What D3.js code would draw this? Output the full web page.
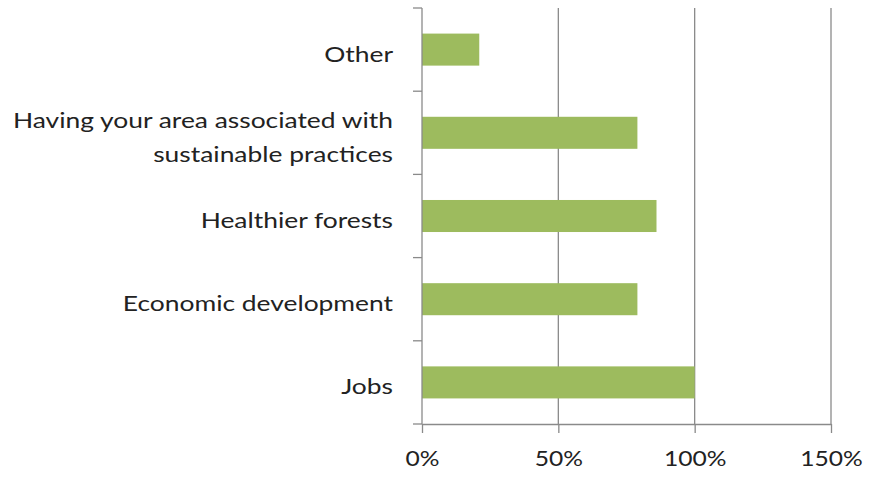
<!DOCTYPE html>
<html>
<head>
<meta charset="utf-8">
<script src="https://cdn.jsdelivr.net/npm/d3@7"></script>
<style>
  html, body { margin: 0; padding: 0; background: #fff; }
  svg text { font-family: Lato, "Open Sans", sans-serif; fill: #222; }
</style>
</head>
<body>
<svg id="chart" width="873" height="479"></svg>
<script>
// Categories, top to bottom
const categories = [
  "Other",
  "Having your area associated with|sustainable practices",
  "Healthier forests",
  "Economic development",
  "Jobs"
];
// Share of respondents (%)
const values = [21, 79, 86, 79, 100];
// X-axis ticks (%)
const xTicks = [0, 50, 100, 150];

const margin = { top: 8, right: 42, bottom: 55, left: 422 };
const width = 873, height = 479;
const svg = d3.select("#chart");

const x = d3.scaleLinear().domain([0, 150]).range([margin.left, width - margin.right]);
const y = d3.scaleBand().domain(categories).range([margin.top, height - margin.bottom])
  .paddingInner(0.615).paddingOuter(0.3075);

const axisColor = "#8a8a8a";
const fontSize = 22;
const labelStretch = 1.2;   // wide-set lettering
const tickStretch = 1.12;

// vertical gridlines
svg.append("g").selectAll("line")
  .data(xTicks.filter(d => d > 0))
  .join("line")
  .attr("x1", d => x(d)).attr("x2", d => x(d))
  .attr("y1", margin.top).attr("y2", height - margin.bottom)
  .attr("stroke", axisColor).attr("stroke-width", 1.3);

// bars
svg.append("g").selectAll("rect")
  .data(categories.map((c, i) => ({ c, v: values[i] })))
  .join("rect")
  .attr("x", x(0))
  .attr("y", d => y(d.c))
  .attr("width", d => x(d.v) - x(0))
  .attr("height", y.bandwidth())
  .attr("fill", "#9dbb5e");

// bottom axis
const xAxis = svg.append("g")
  .attr("transform", `translate(0,${height - margin.bottom})`)
  .call(d3.axisBottom(x).tickValues(xTicks).tickFormat(d => d + "%").tickSizeInner(9).tickSizeOuter(0).tickPadding(17));
xAxis.select(".domain").attr("stroke", axisColor).attr("stroke-width", 1.3);
xAxis.selectAll(".tick line").attr("stroke", axisColor).attr("stroke-width", 1.3);
xAxis.selectAll(".tick text").attr("font-size", fontSize).attr("fill", "#222")
  .attr("font-family", "Lato, 'Open Sans', sans-serif")
  .attr("transform", `scale(${tickStretch},1)`);

// left axis: category boundary ticks
const step = y.step();
const boundaries = d3.range(categories.length + 1).map(i => margin.top + i * step);
svg.append("line")
  .attr("x1", x(0)).attr("x2", x(0))
  .attr("y1", margin.top).attr("y2", height - margin.bottom)
  .attr("stroke", axisColor).attr("stroke-width", 1.3);
svg.append("g").selectAll("line")
  .data(boundaries)
  .join("line")
  .attr("x1", x(0) - 9).attr("x2", x(0))
  .attr("y1", d => d).attr("y2", d => d)
  .attr("stroke", axisColor).attr("stroke-width", 1.3);

// category labels (multi-line labels split on "|"), right-aligned left of the axis
const labelX = x(0) - 29;
const labels = svg.append("g")
  .attr("transform", `translate(${labelX},0) scale(${labelStretch},1)`)
  .selectAll("text")
  .data(categories)
  .join("text")
  .attr("text-anchor", "end")
  .attr("font-size", fontSize)
  .attr("x", 0);
labels.each(function(d) {
  const lines = d.split("|");
  const t = d3.select(this);
  const lh = 34;
  const mid = y(d) + y.bandwidth() / 2;
  lines.forEach((ln, i) => {
    t.append("tspan")
      .attr("x", 0)
      .attr("y", mid + 12 + (i - (lines.length - 1) / 2) * lh)
      .text(ln);
  });
});
</script>
</body>
</html>
